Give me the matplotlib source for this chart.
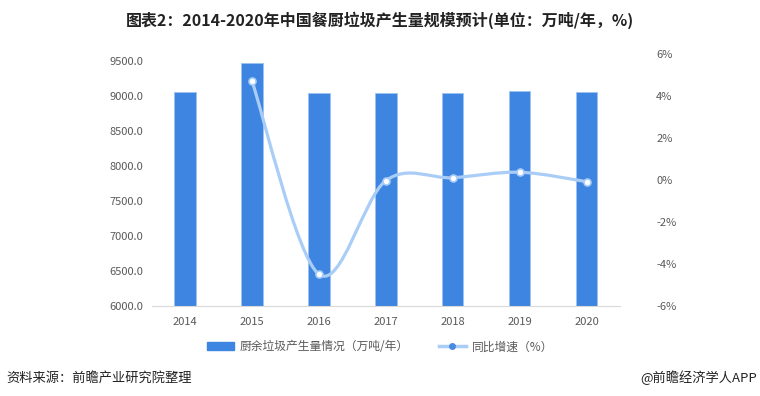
import matplotlib
matplotlib.use("Agg")
import matplotlib.pyplot as plt
from matplotlib.path import Path
from matplotlib.patches import PathPatch, Patch
from matplotlib.lines import Line2D
from matplotlib.ticker import FuncFormatter, MultipleLocator

plt.rcParams['font.family'] = ['Noto Sans CJK SC', 'DejaVu Sans']

years = ['2014', '2015', '2016', '2017', '2018', '2019', '2020']
volume = [9049, 9463, 9034, 9034, 9036, 9063, 9049]
growth = [None, 4.71, -4.50, -0.03, 0.11, 0.37, -0.08]

title = '图表2：2014-2020年中国餐厨垃圾产生量规模预计(单位：万吨/年，%)'
bar_label = '厨余垃圾产生量情况（万吨/年）'
line_label = '同比增速（%）'
source = '资料来源：前瞻产业研究院整理'
credit = '@前瞻经济学人APP'

bar_color = '#3d85e0'
line_color = '#a9cdf7'
tick_color = '#595959'

fig = plt.figure(figsize=(7.6, 3.96), dpi=100)
ax = fig.add_axes([0.1996, 0.228, 0.6162, 0.6349])
x = list(range(len(years)))
ax.bar(x, volume, width=0.32, color=bar_color, edgecolor='#9cc3f0', linewidth=0.6, zorder=2)
ax.set_xlim(-0.5, len(years) - 0.5)
ax.set_ylim(6000, 9590)
ax.yaxis.set_major_locator(MultipleLocator(500))
ax.yaxis.set_major_formatter(FuncFormatter(lambda v, p: f'{v:.1f}'))
ax.set_xticks(x)
ax.set_xticklabels(years)
for s in ['top', 'right', 'left']:
    ax.spines[s].set_visible(False)
ax.spines['bottom'].set_color('#d9d9d9')
ax.tick_params(axis='both', length=0, labelsize=8, colors=tick_color)
ax.tick_params(axis='x', pad=8)
ax.tick_params(axis='y', pad=6)

ax2 = ax.twinx()
ax2.set_ylim(-6, 6)
ax2.yaxis.set_major_locator(MultipleLocator(2))
ax2.yaxis.set_major_formatter(FuncFormatter(lambda v, p: f'{v:.0f}%'))
for s in ['top', 'right', 'left', 'bottom']:
    ax2.spines[s].set_visible(False)
ax2.tick_params(axis='y', length=0, labelsize=8, colors=tick_color, pad=26)

# smooth line (Catmull-Rom style Bezier through data points)
pts = [(xi, g) for xi, g in zip(x, growth) if g is not None]
verts = [pts[0]]
codes = [Path.MOVETO]
n = len(pts)
for i in range(n - 1):
    p0 = pts[i - 1] if i > 0 else pts[i]
    p1 = pts[i]
    p2 = pts[i + 1]
    p3 = pts[i + 2] if i + 2 < n else pts[i + 1]
    c1 = (p1[0] + (p2[0] - p0[0]) / 6, p1[1] + (p2[1] - p0[1]) / 6)
    c2 = (p2[0] - (p3[0] - p1[0]) / 6, p2[1] - (p3[1] - p1[1]) / 6)
    verts += [c1, c2, p2]
    codes += [Path.CURVE4] * 3
ax2.add_patch(PathPatch(Path(verts, codes), facecolor='none', edgecolor=line_color,
                        linewidth=2.3, zorder=3, capstyle='round'))
ax2.plot([p[0] for p in pts], [p[1] for p in pts], linestyle='none', marker='o',
         markersize=5, markerfacecolor='white', markeredgecolor=line_color,
         markeredgewidth=1.2, zorder=4)

fig.text(0.5, 0.948, title, ha='center', va='center', fontsize=11.5,
         fontweight='bold', color='#222222')

handles = [Patch(facecolor=bar_color, edgecolor=bar_color),
           Line2D([0], [0], color=line_color, lw=2.5, marker='o', markersize=4,
                  markerfacecolor='#4a8be0', markeredgecolor='#4a8be0')]
fig.legend(handles, [bar_label, line_label], loc='center', ncol=2,
           bbox_to_anchor=(0.5, 0.124), frameon=False, fontsize=8.5,
           handlelength=2.3, handleheight=0.6, columnspacing=2.5,
           labelcolor=tick_color, handletextpad=0.5)

fig.text(0.008, 0.046, source, ha='left', va='center', fontsize=9.5, color='#222222')
fig.text(0.996, 0.046, credit, ha='right', va='center', fontsize=9.5, color='#222222')

fig.savefig('out.png', dpi=100, facecolor='white')
